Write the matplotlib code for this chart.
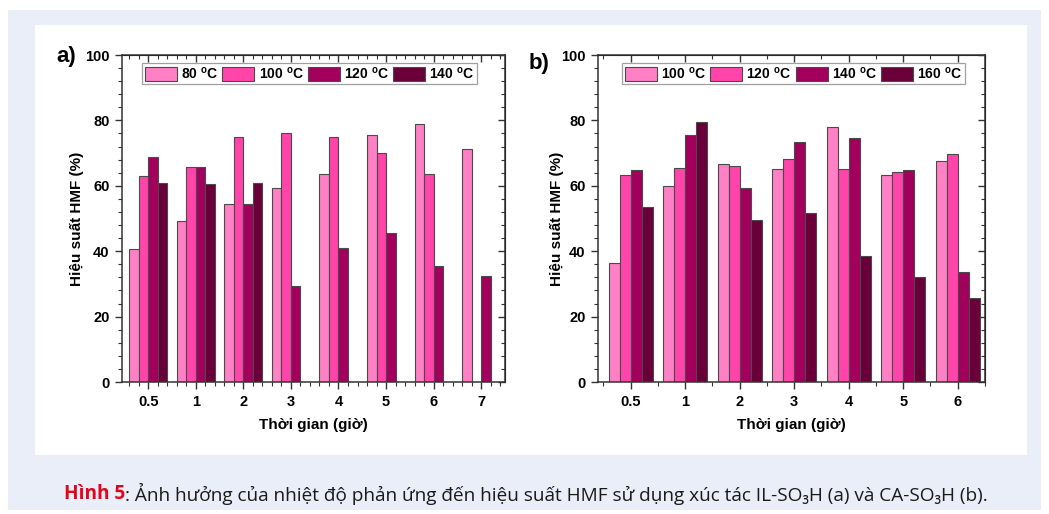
import numpy as np
import matplotlib
matplotlib.use("Agg")
import matplotlib.pyplot as plt
from matplotlib.patches import Rectangle
from matplotlib.ticker import MultipleLocator

plt.rcParams['font.family'] = ['Liberation Sans', 'DejaVu Sans']
plt.rcParams['mathtext.fontset'] = 'custom'
plt.rcParams['mathtext.bf'] = 'Liberation Sans:bold'
plt.rcParams['mathtext.rm'] = 'Liberation Sans:bold'

# ---- data ----
times_a = ['0.5', '1', '2', '3', '4', '5', '6', '7']
temps_a = ['80', '100', '120', '140']
a_80 = [40.6, 49.3, 54.4, 59.2, 63.6, 75.4, 78.9, 71.3]
a_100 = [63.0, 65.8, 75.0, 76.0, 74.8, 69.9, 63.7, np.nan]
a_120 = [68.8, 65.6, 54.4, 29.3, 41.0, 45.6, 35.4, 32.3]
a_140 = [60.8, 60.4, 60.9, np.nan, np.nan, np.nan, np.nan, np.nan]

times_b = ['0.5', '1', '2', '3', '4', '5', '6']
temps_b = ['100', '120', '140', '160']
b_100 = [36.4, 59.9, 66.6, 65.0, 78.0, 63.4, 67.5]
b_120 = [63.4, 65.4, 66.1, 68.2, 65.0, 64.2, 69.6]
b_140 = [64.8, 75.5, 59.4, 73.5, 74.5, 64.9, 33.6]
b_160 = [53.5, 79.6, 49.5, 51.8, 38.6, 32.1, 25.7]

colors = ['#ff80c4', '#ff44aa', '#a2005c', '#690039']

W, H = 1049, 514
fig = plt.figure(figsize=(W / 100, H / 100), dpi=100)

# background panels
fig.patches.append(Rectangle((8 / W, 4 / H), (1041 - 8) / W, (504 - 4) / H,
                             transform=fig.transFigure, facecolor='#e9eef8',
                             edgecolor='none', zorder=-10))
fig.patches.append(Rectangle((35 / W, (H - 455) / H), (1027 - 35) / W, (455 - 25) / H,
                             transform=fig.transFigure, facecolor='white',
                             edgecolor='none', zorder=-9))


def panel(rect, cats, series, temps, xlim, minor_step, letter, letter_xy, leg_anchor):
    ax = fig.add_axes(rect)
    ax.set_facecolor('white')
    x = np.arange(len(cats))
    bw = 0.2
    handles = []
    for i, (vals, c) in enumerate(zip(series, colors)):
        h = ax.bar(x + (i - 1.5) * bw, vals, width=bw, color=c,
                   edgecolor='#4a4a4a', linewidth=0.8, zorder=2)
        handles.append(h)
    ax.set_xlim(*xlim)
    ax.set_ylim(0, 100)
    ax.set_xticks(x)
    ax.set_xticklabels(cats, fontsize=10.5, fontweight='bold')
    ax.xaxis.set_minor_locator(MultipleLocator(minor_step))
    ax.set_yticks([0, 20, 40, 60, 80, 100])
    ax.set_yticklabels(['0', '20', '40', '60', '80', '100'], fontsize=10.5, fontweight='bold')
    ax.yaxis.set_minor_locator(MultipleLocator(4))
    ax.tick_params(axis='both', which='major', direction='out', length=5, width=1,
                   color='#333333', pad=4)
    ax.tick_params(axis='both', which='minor', direction='out', length=3, width=0.8,
                   color='#333333')
    for s in ax.spines.values():
        s.set_linewidth(1.1)
        s.set_color('#333333')
    # mirrored ticks inward on top/right
    ax2 = ax.secondary_xaxis('top')
    ax2.set_xticks(x)
    ax2.xaxis.set_minor_locator(MultipleLocator(minor_step))
    ax2.tick_params(which='major', direction='in', length=5, width=1, color='#333333', labeltop=False)
    ax2.tick_params(which='minor', direction='in', length=3, width=0.8, color='#333333')
    ax3 = ax.secondary_yaxis('right')
    ax3.set_yticks([0, 20, 40, 60, 80, 100])
    ax3.yaxis.set_minor_locator(MultipleLocator(4))
    ax3.tick_params(which='major', direction='in', length=5, width=1, color='#333333', labelright=False)
    ax3.tick_params(which='minor', direction='in', length=3, width=0.8, color='#333333')

    ax.set_xlabel('Thời gian (giờ)', fontsize=11, fontweight='bold', labelpad=7)
    ax.set_ylabel('Hiệu suất HMF (%)', fontsize=11, fontweight='bold', labelpad=12)
    labels = [r'%s $^{\mathbf{o}}$C' % t for t in temps]
    leg = ax.legend(handles, labels, ncol=4, loc='upper left', bbox_to_anchor=leg_anchor,
                    borderaxespad=0, frameon=True, fancybox=False,
                    prop={'weight': 'bold', 'size': 10}, handlelength=2.3,
                    handleheight=1.2, handletextpad=0.3, columnspacing=0.3,
                    borderpad=0.2)
    leg.get_frame().set_edgecolor('#888888')
    leg.get_frame().set_linewidth(0.9)
    fig.text(letter_xy[0] / W, 1 - letter_xy[1] / H, letter, fontsize=16,
             fontweight='bold', ha='left', va='center')
    return ax


axa = panel([122 / W, 1 - 382 / H, (505 - 122) / W, (382 - 55) / H], times_a,
            [a_80, a_100, a_120, a_140], temps_a, (-0.55, 7.5), 0.2, 'a)', (56, 56),
            (0.052, 0.976))
axb = panel([598 / W, 1 - 382 / H, (985 - 598) / W, (382 - 55) / H], times_b,
            [b_100, b_120, b_140, b_160], temps_b, (-0.6, 6.5), 0.5, 'b)', (529, 63),
            (0.062, 0.976))
axa.yaxis.set_label_coords(-0.098, 0.5)
axb.yaxis.set_label_coords(-0.089, 0.5)

# caption
cap_y = 1 - 494 / H
t1 = fig.text(64 / W, cap_y, 'Hình 5', fontsize=13.7, fontweight='bold', color='#e3051b',
              family=['Open Sans', 'DejaVu Sans'], va='center', ha='left')
fig.canvas.draw()
bb = t1.get_window_extent()
fig.text(bb.x1 / W, cap_y,
         ': Ảnh hưởng của nhiệt độ phản ứng đến hiệu suất HMF sử dụng xúc tác IL-SO₃H (a) và CA-SO₃H (b).',
         fontsize=13.7, color='#1a1a1a', family=['Open Sans', 'DejaVu Sans'],
         va='center', ha='left')

fig.savefig('out.png', dpi=100)
